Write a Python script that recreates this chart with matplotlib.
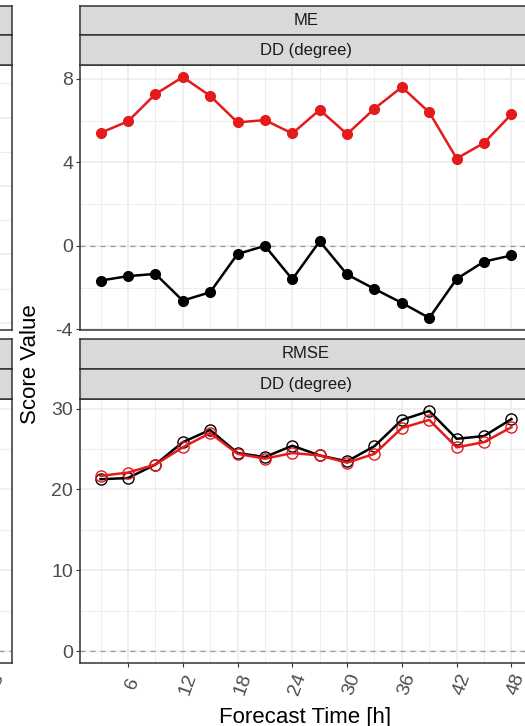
import numpy as np
import matplotlib
matplotlib.use("Agg")
import matplotlib.pyplot as plt
from matplotlib.transforms import ScaledTranslation

# ===================== data =====================
lead_time = [3, 6, 9, 12, 15, 18, 21, 24, 27, 30, 33, 36, 39, 42, 45, 48]

me_red = [5.41, 5.96, 7.26, 8.08, 7.18, 5.91, 6.02, 5.38,
          6.51, 5.35, 6.57, 7.60, 6.39, 4.18, 4.93, 6.30]
me_black = [-1.66, -1.45, -1.34, -2.62, -2.22, -0.39, 0.00, -1.60,
            0.22, -1.37, -2.06, -2.73, -3.45, -1.58, -0.75, -0.46]

rmse_red = [21.67, 22.08, 23.07, 25.20, 26.97, 24.40, 23.80, 24.50,
            24.20, 23.30, 24.40, 27.60, 28.60, 25.20, 25.85, 27.70]
rmse_black = [21.26, 21.40, 23.07, 25.84, 27.36, 24.50, 24.00, 25.40,
              24.20, 23.47, 25.35, 28.60, 29.70, 26.26, 26.60, 28.70]

x_ticks = [6, 12, 18, 24, 30, 36, 42, 48]
x_tick_labels = ["6", "12", "18", "24", "30", "36", "42", "48"]
x_minor = [3, 9, 15, 21, 27, 33, 39, 45]

score_top = "ME"
score_bottom = "RMSE"
var_label = "DD (degree)"

# ===================== style =====================
plt.rcParams['font.family'] = ['Liberation Sans', 'DejaVu Sans']
plt.rcParams['axes.unicode_minus'] = False

RED = "#E41A1C"
BORDER = "#333333"
GRID = "#EBEBEB"
STRIP = "#D9D9D9"
TICKTXT = "#4D4D4D"

W, H = 525, 726
fig = plt.figure(figsize=(W / 100, H / 100), dpi=100)


def px_axes(left, top, right, bottom):
    return fig.add_axes([left / W, 1 - bottom / H, (right - left) / W, (bottom - top) / H])


def expand(lo, hi, f=0.05):
    d = (hi - lo) * f
    return lo - d, hi + d


def style_panel(ax, ylim, ymajor, yminor, show_x):
    xlim = expand(min(lead_time), max(lead_time))
    ax.set_xlim(xlim)
    ax.set_ylim(ylim)
    ax.set_xticks(x_ticks)
    ax.set_xticks(x_minor, minor=True)
    ax.set_yticks(ymajor)
    ax.set_yticks(yminor, minor=True)
    ax.grid(which='major', color=GRID, lw=1.1)
    ax.grid(which='minor', color=GRID, lw=0.6)
    ax.set_axisbelow(True)
    for s in ax.spines.values():
        s.set_color(BORDER)
        s.set_linewidth(1.1)
    ax.tick_params(which='major', direction='out', length=3, width=0.8,
                   color=BORDER, labelcolor=TICKTXT, labelsize=14, pad=2)
    ax.tick_params(which='minor', length=0)
    if show_x:
        ax.tick_params(axis='x', pad=12)
        ax.set_xticklabels(x_tick_labels, rotation=70, ha='center', va='center',
                           rotation_mode='anchor')
        shift = ScaledTranslation(5 / 100, 0, fig.dpi_scale_trans)
        for lab in ax.get_xticklabels():
            lab.set_transform(lab.get_transform() + shift)
    else:
        ax.tick_params(axis='x', which='both', length=0, labelbottom=False)


def strip(left, top, right, bottom, label):
    ax = px_axes(left, top, right, bottom)
    ax.set_facecolor(STRIP)
    ax.set_xticks([])
    ax.set_yticks([])
    for s in ax.spines.values():
        s.set_color(BORDER)
        s.set_linewidth(1.1)
    if label:
        ax.text(0.5, 0.5, label, transform=ax.transAxes, ha='center', va='center',
                fontsize=12, color="#1A1A1A")
    return ax


# panel geometry in pixels (figure is a crop of a wider facet grid)
R_L, R_R = 80, 532
L_L, L_R = -440, 11.7
TOP_T, TOP_B = 65, 330
BOT_T, BOT_B = 399, 663

top_lim = expand(min(min(me_red), min(me_black), 0), max(max(me_red), max(me_black), 0))
bot_lim = expand(min(min(rmse_red), min(rmse_black), 0), max(max(rmse_red), max(rmse_black)))

# ---- left column (cut off) ----
ax_lt = px_axes(L_L, TOP_T, L_R, TOP_B)
style_panel(ax_lt, (-0.21, 7.54), [0, 2, 4, 6], [1, 3, 5, 7], False)
ax_lt.tick_params(axis='y', labelleft=False)
strip(L_L, 6, L_R, 35, "")
strip(L_L, 35, L_R, 65, "")

ax_lb = px_axes(L_L, BOT_T, L_R, BOT_B)
style_panel(ax_lb, bot_lim, [0, 10, 20, 30], [5, 15, 25], True)
ax_lb.axhline(0, color="#999999", ls=(0, (4, 4)), lw=0.9, zorder=1.5)
ax_lb.tick_params(axis='y', labelleft=False)
strip(L_L, 339, L_R, 369, "")
strip(L_L, 369, L_R, 399, "")

# ---- right column: ME ----
ax1 = px_axes(R_L, TOP_T, R_R, TOP_B)
style_panel(ax1, top_lim, [-4, 0, 4, 8], [-2, 2, 6], False)
ax1.axhline(0, color="#999999", ls=(0, (4, 4)), lw=0.9, zorder=1.5)
ax1.plot(lead_time, me_black, color='black', lw=1.8, marker='o', ms=7, zorder=3)
ax1.plot(lead_time, me_red, color=RED, lw=1.8, marker='o', ms=7, zorder=3)
strip(R_L, 6, R_R, 35, score_top)
strip(R_L, 35, R_R, 65, var_label)

# ---- right column: RMSE ----
ax2 = px_axes(R_L, BOT_T, R_R, BOT_B)
style_panel(ax2, bot_lim, [0, 10, 20, 30], [5, 15, 25], True)
ax2.axhline(0, color="#999999", ls=(0, (4, 4)), lw=0.9, zorder=1.5)
ax2.plot(lead_time, rmse_black, color='black', lw=1.8, marker='o', ms=8,
         mfc='none', mew=1.0, zorder=3)
ax2.plot(lead_time, rmse_red, color=RED, lw=1.8, marker='o', ms=8,
         mfc='none', mew=1.0, zorder=3)
strip(R_L, 339, R_R, 369, score_bottom)
strip(R_L, 369, R_R, 399, var_label)

# axis titles
fig.text(30 / W, 1 - 364 / H, "Score Value", rotation=90, ha='center', va='center',
         fontsize=16, color='black')
fig.text(305 / W, 1 - 707 / H, "Forecast Time [h]", ha='center', va='top',
         fontsize=16, color='black')

fig.savefig("out.png", dpi=100)
plt.close(fig)
